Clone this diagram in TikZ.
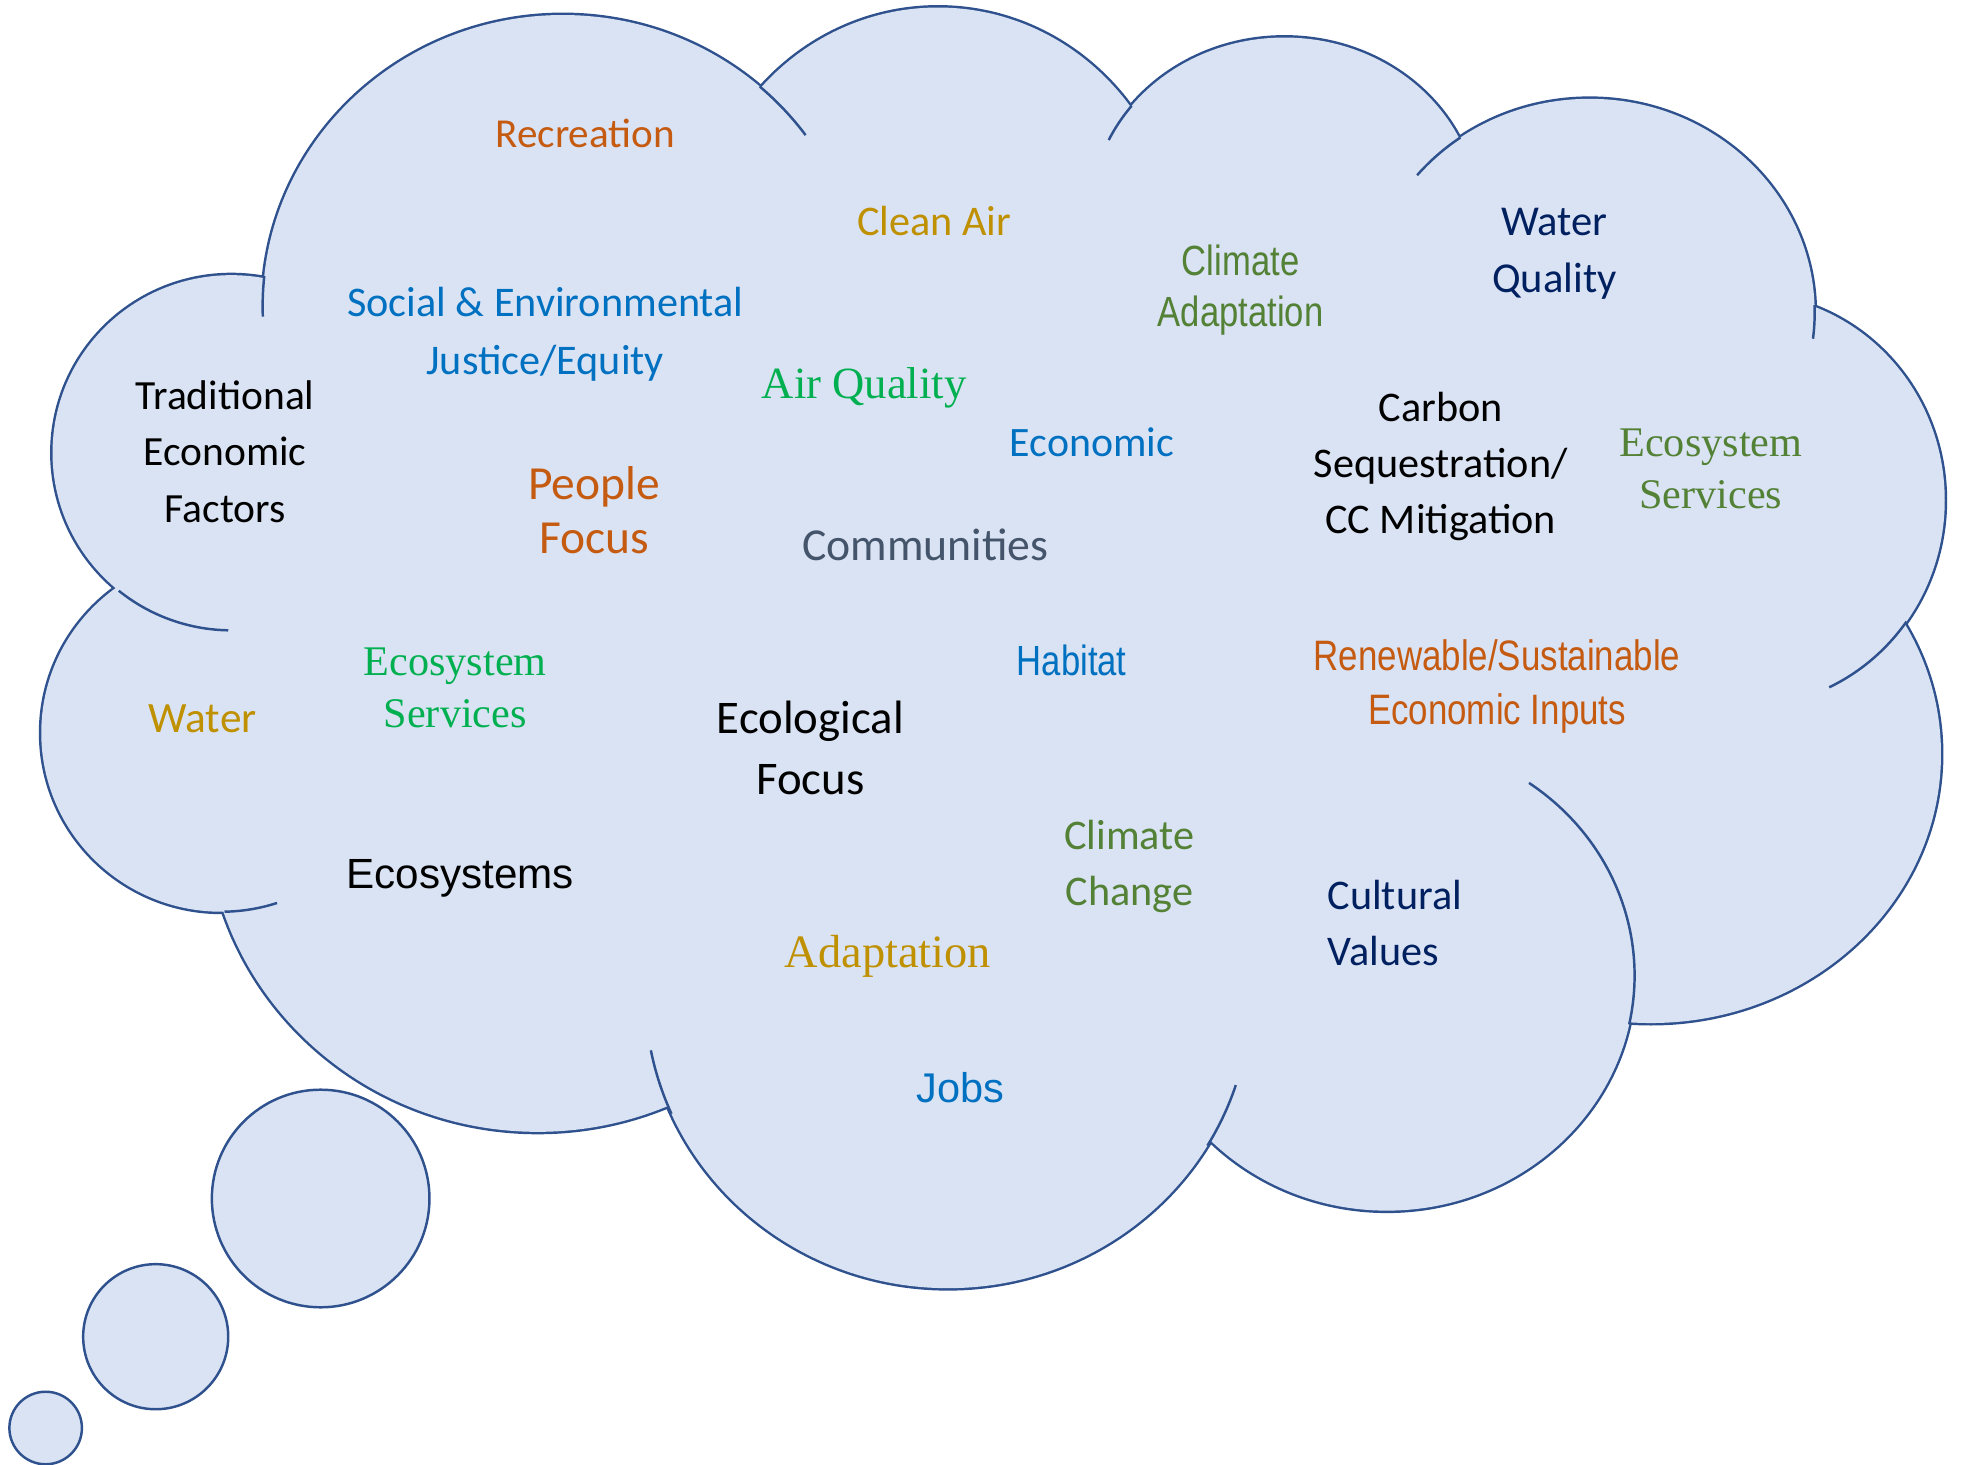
\documentclass[tikz,border=0pt]{standalone}
\usepackage{fontspec}
\usepackage{xcolor}

\newfontfamily\calibrifont{Carlito}
\newfontfamily\arialfont{Liberation Sans}
\newfontfamily\narrowfont[FakeStretch=0.82]{Liberation Sans}
\newfontfamily\seriffont{Liberation Serif}

\definecolor{cloudfill}{HTML}{DAE3F3}
\definecolor{cloudedge}{HTML}{2F528F}
\definecolor{wordorange}{HTML}{C55A11}
\definecolor{wordgold}{HTML}{BF9000}
\definecolor{wordblue}{HTML}{0070C0}
\definecolor{wordgreen}{HTML}{00B050}
\definecolor{wordolive}{HTML}{538135}
\definecolor{wordnavy}{HTML}{002060}
\definecolor{wordgray}{HTML}{44546A}

\begin{document}
\begin{tikzpicture}[x=0.0125cm, y=-0.0125cm,
    lobe/.style={draw=cloudedge, line width=1.4pt},
    crease/.style={draw=cloudedge, line width=0.7pt},
    bubble/.style={draw=cloudedge, fill=cloudfill, line width=0.7pt},
    word/.style={align=center, inner sep=0pt}]
  \useasboundingbox (0,0) rectangle (1568,1171);

  % Draw the cloud: thick lobe edges, then the fill hides their inner half
  \foreach \cx/\cy/\rx/\ry in {450/245/240/233, 750/206/193/200, 1027/172/155/142,
      1271/250/180/171, 1395/400/160/165, 1320/603/232/215, 1109/780/198/188,
      758/795/242/235, 430/647/265/258, 177/586/144/143, 185/362/143/142}
    \draw[lobe] (\cx,\cy) ellipse [x radius=\rx, y radius=\ry];
  \foreach \cx/\cy/\rx/\ry in {450/245/240/233, 750/206/193/200, 1027/172/155/142,
      1271/250/180/171, 1395/400/160/165, 1320/603/232/215, 1109/780/198/188,
      758/795/242/235, 430/647/265/258, 177/586/144/143, 185/362/143/142,
      790/520/560/330}
    \fill[cloudfill] (\cx,\cy) ellipse [x radius=\rx, y radius=\ry];

  % short inner arcs where the lobes meet
  \foreach \cx/\cy/\rx/\ry/\a/\b in {450/245/240/233/-174/-182, 450/245/240/233/-49/-36,
      1027/172/155/142/-142/-155, 1271/250/180/171/-125/-140, 1271/250/180/171/-2/7,
      1395/400/160/165/36/65, 1109/780/198/188/12/-55, 758/795/242/235/156/169,
      758/795/242/235/31/18, 177/586/144/143/89/72, 185/362/143/142/129/91}
    \draw[crease] (\cx,\cy) ++(\a:{\rx} and {\ry})
      arc [start angle=\a, end angle=\b, x radius=\rx, y radius=\ry];

  % thought bubbles
  \draw[bubble] (256.4,958.3) circle [radius=87];
  \draw[bubble] (124.5,1068.8) circle [radius=58];
  \draw[bubble] (36.5,1141.8) circle [radius=29];

  % Words in the cloud
  \node[word, text=wordorange, font=\calibrifont\fontsize{11.7}{14}\selectfont] (recreation) at (468,107) {Recreation};
  \node[word, text=wordgold, font=\calibrifont\fontsize{12}{14}\selectfont] (cleanair) at (747,177) {Clean Air};
  \node[word, text=wordblue, font=\calibrifont\fontsize{12}{16.4}\selectfont] (justice) at (436,267) {Social \& Environmental\\Justice/Equity};
  \node[word, text=wordgreen, font=\seriffont\fontsize{12.7}{14}\selectfont] (airquality) at (691,310) {Air Quality};
  \node[word, font=\calibrifont\fontsize{11.8}{16}\selectfont] (traditional) at (180,361) {Traditional\\Economic\\Factors};
  \node[word, text=wordorange, font=\calibrifont\fontsize{13.5}{15.3}\selectfont] (people) at (475,408) {People\\Focus};
  \node[word, text=wordgray, font=\calibrifont\fontsize{13}{15}\selectfont] (communities) at (740,436) {Communities};
  \node[word, text=wordblue, font=\calibrifont\fontsize{11.9}{14}\selectfont] (economic) at (873,354) {Economic};
  \node[word, text=wordolive, font=\narrowfont\fontsize{12}{14.6}\selectfont] (climadapt) at (992,232) {Climate\\Adaptation};
  \node[word, text=wordnavy, font=\calibrifont\fontsize{12.1}{16}\selectfont] (waterquality) at (1243,203) {Water\\Quality};
  \node[word, font=\calibrifont\fontsize{12}{15.9}\selectfont] (carbon) at (1152,373) {Carbon\\Sequestration/\\CC Mitigation};
  \node[word, text=wordolive, font=\seriffont\fontsize{12}{15}\selectfont] (ecoright) at (1368,375) {Ecosystem\\Services};
  \node[word, text=wordorange, font=\narrowfont\fontsize{12.1}{15.3}\selectfont] (renewable) at (1197,549) {Renewable/Sustainable\\Economic Inputs};
  \node[word, text=wordblue, font=\narrowfont\fontsize{12}{14}\selectfont] (habitat) at (857,528) {Habitat};
  \node[word, text=wordgold, font=\calibrifont\fontsize{12.3}{14}\selectfont] (water) at (162,575) {Water};
  \node[word, text=wordgreen, font=\seriffont\fontsize{12}{15}\selectfont] (ecoleft) at (364,550) {Ecosystem\\Services};
  \node[word, font=\calibrifont\fontsize{13.3}{17.4}\selectfont] (ecofocus) at (648,598) {Ecological\\Focus};
  \node[word, font=\arialfont\fontsize{12}{14}\selectfont] (ecosystems) at (368,702) {Ecosystems};
  \node[word, text=wordolive, font=\calibrifont\fontsize{12}{16}\selectfont] (climchange) at (903,693) {Climate\\Change};
  \node[word, align=left, anchor=west, text=wordnavy, font=\calibrifont\fontsize{12}{16}\selectfont] (cultural) at (1061,738) {Cultural\\Values};
  \node[word, text=wordgold, font=\seriffont\fontsize{13.2}{14}\selectfont] (adaptation) at (710,765) {Adaptation};
  \node[word, text=wordblue, font=\arialfont\fontsize{11.8}{14}\selectfont] (jobs) at (768,870) {Jobs};
\end{tikzpicture}
\end{document}
